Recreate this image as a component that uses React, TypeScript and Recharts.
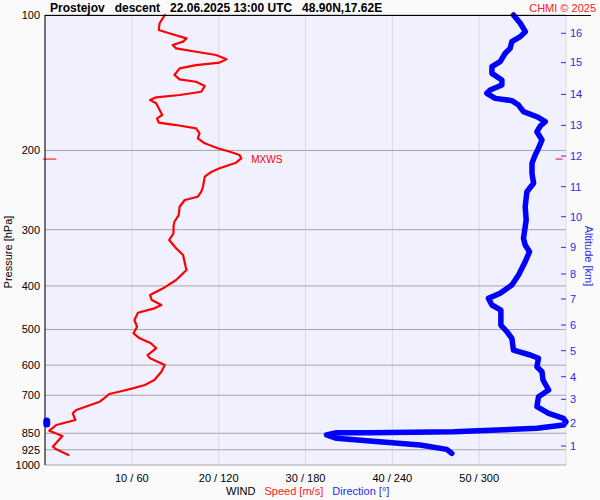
import * as React from 'react';
import { CartesianGrid, ReferenceLine, Scatter, ScatterChart, XAxis, YAxis } from 'recharts';

// wind speed profile [m/s] vs pressure [hPa]
const speedPressure = [100, 104.3, 108, 109.8, 112.7, 114.6, 116.6, 118.6, 120.7, 122.7, 125.4, 127.6, 129.2, 131.4, 135.9, 139, 140.7, 143.8, 148.1, 150.6, 152.4, 154.5, 157.1, 162.6, 166.8, 169.7, 173.5, 175.6, 178.6, 183.2, 187.9, 192.8, 197.8, 201.3, 204.7, 208.2, 212.9, 219.1, 222.9, 228.7, 240.8, 247, 253.4, 257.7, 266.7, 278.3, 288, 295.4, 305.6, 316.2, 329.9, 341.5, 362.5, 368.8, 388.1, 404.9, 419.1, 429.9, 441, 448.6, 458.8, 476.2, 492.9, 509.7, 522.9, 536.5, 550.4, 569.6, 579.3, 599.5, 620.4, 647.3, 664.1, 675.5, 683.8, 695.4, 710.9, 723.3, 754.9, 767.6, 794.3, 814.9, 839.1, 862.2, 910.8, 923.1, 950];
const speedValues = [13.8, 13.2, 13.1, 14.3, 16.3, 15.9, 14.7, 15.1, 17.4, 19.7, 20.9, 20.1, 17.4, 15.5, 14.9, 15.5, 17.4, 18.4, 18, 15.5, 12.8, 12.1, 12.8, 13.2, 13.5, 12.9, 13.1, 15.1, 17.4, 17.8, 17.6, 18.4, 19.9, 21.3, 22.4, 22.6, 22, 20.1, 19.2, 18.4, 18.2, 18, 17.6, 16.1, 15.5, 15.4, 14.9, 14.8, 14.8, 14.3, 15.1, 15.9, 16.2, 16.3, 15.1, 13.6, 12.1, 12.3, 13.4, 12.6, 10.7, 10.3, 10.6, 10.2, 10.9, 12.2, 12.8, 11.8, 12.1, 13.8, 13.4, 12.6, 11.5, 10.1, 9, 7.4, 6.8, 6.3, 3.6, 3.2, 3.5, 1.3, 0.5, 2, 0.9, 1.3, 2.7];

// wind direction profile [deg] vs pressure [hPa]
const dirPressure = [100, 104.3, 108.9, 111.7, 114.6, 118.6, 121.6, 127, 130.3, 134.8, 139.5, 143.1, 146.8, 149.3, 153.2, 155, 158.5, 164, 168.3, 172.6, 176.5, 181.7, 189.6, 197.8, 204.7, 213.6, 224.8, 236.6, 247, 266.7, 285.5, 313.5, 324.4, 335.7, 353.4, 378.3, 398.1, 415.4, 426.3, 441, 452.5, 488.7, 505.7, 522.9, 555.3, 569.6, 579.3, 604.8, 620.4, 647.3, 681.3, 705.1, 741.9, 767.6, 787.8, 801.7, 814.9, 828.8, 843.3, 847.6, 848, 857.7, 872.4, 884.5, 902.8, 923.1, 941.9];
const dirValues = [323.7, 328.4, 331.9, 328.4, 322.6, 321.4, 318, 314.5, 308.8, 308.8, 315.7, 315.7, 307.6, 305.3, 311.1, 322.6, 327.2, 330.6, 339.9, 345.7, 342.2, 339.9, 343.4, 341, 338.7, 336.5, 336.5, 337.6, 333, 331.8, 332.5, 330.6, 331.8, 334.8, 331.8, 327.2, 322.6, 314.5, 306.4, 308.8, 315, 315, 319.2, 322.6, 323.7, 335.3, 341, 339.9, 343.4, 344.1, 348, 341, 339.9, 348, 358.3, 360, 358.3, 339.9, 282.2, 224.5, 201.5, 194.5, 201.5, 224.5, 259.1, 277.6, 281.1];
// short piece where the direction wraps past north
const wrapPressure = [798.7, 810.8];
const wrapValues = [1.2, 1.2];

const pressureTicks = [100, 200, 300, 400, 500, 600, 700, 850, 925, 1000];
const speedTicks = [0, 10, 20, 30, 40, 50, 60];
const altitudeKm = [1, 2, 3, 4, 5, 6, 7, 8, 9, 10, 11, 12, 13, 14, 15, 16];
const altitudePressure = [907.4, 807.7, 714.5, 636.5, 557.2, 488.6, 427.7, 376.3, 328.4, 280.7, 240.7, 205.8, 175.9, 150.1, 127.6, 109.8];

const maxWindSpeed = 22.6;
const maxWindPressure = 209;

const speedData = speedValues.map((v, i) => ({ v, p: speedPressure[i] }));
const dirData = dirValues.map((v, i) => ({ v, p: dirPressure[i] }));
const wrapData = wrapValues.map((v, i) => ({ v, p: wrapPressure[i] }));
const mxwsData = [{ v: maxWindSpeed, p: maxWindPressure }];

const FONT = 'Arial, "Liberation Sans", sans-serif';
const BLUE = '#0000ff';
const AXIS_BLUE = '#2a2ae8';
const RED = '#ff0000';

const noDot = () => <g />;

function WindTick(props: any) {
    const { x, y, payload } = props;
    const v = payload.value;
    if (v === 0 || v === 60) return <g />;
    return (
        <text x={x} y={y} dy="0.8em" textAnchor="middle" fill="#000" fontSize={11} fontFamily={FONT}>
            {`${v} / ${v * 6}`}
        </text>
    );
}

function AltTick(props: any) {
    const { x, y, payload } = props;
    const idx = altitudePressure.indexOf(payload.value);
    return (
        <g>
            <line x1={x - 5} x2={x} y1={y} y2={y} stroke={AXIS_BLUE} />
            <text x={x + 4} y={y} dy="0.35em" fill={AXIS_BLUE} fontSize={11} fontFamily={FONT}>
                {idx >= 0 ? altitudeKm[idx] : ''}
            </text>
        </g>
    );
}

function MxwsLabel(props: any) {
    const { cx, cy } = props;
    return (
        <text x={cx + 10} y={cy} dy="0.35em" fill={RED} fontSize={10} fontFamily={FONT}>MXWS</text>
    );
}

export default function App() {
    return (
        <div style={{ position: 'absolute', left: 0, top: 0, width: 600, height: 500, background: '#fafafa', fontFamily: FONT }}>
            <ScatterChart width={600} height={500} margin={{ top: 15, right: 0, bottom: 0, left: 0 }}>
                <CartesianGrid xAxisId="spd" yAxisId="p" horizontal={false} stroke="#dadada" fill="#f0f0ff" />
                <CartesianGrid xAxisId="spd" yAxisId="p" vertical={false} stroke="#a6a6a6" />
                <XAxis xAxisId="spd" type="number" dataKey="v" domain={[0, 60]} ticks={speedTicks} interval={0}
                    axisLine={false} tickLine={false} height={35} tick={<WindTick />} />
                <XAxis xAxisId="dir" orientation="top" type="number" dataKey="v" domain={[0, 360]} hide />
                <YAxis yAxisId="p" type="number" dataKey="p" scale="log" domain={[100, 1000]} reversed
                    ticks={pressureTicks} interval={0} width={45} tickSize={0} tickMargin={5}
                    axisLine={{ stroke: '#000' }} tickLine={false}
                    tick={{ fill: '#000', fontSize: 11, fontFamily: FONT }} />
                <YAxis yAxisId="alt" orientation="right" type="number" dataKey="p" scale="log" domain={[100, 1000]} reversed
                    ticks={altitudePressure} interval={0} width={34} tickSize={0} tickMargin={0}
                    axisLine={false} tickLine={false} tick={<AltTick />} />
                <ReferenceLine xAxisId="spd" yAxisId="p" ifOverflow="visible" stroke={RED}
                    segment={[{ x: -0.25, y: maxWindPressure }, { x: 1.3, y: maxWindPressure }]} />
                <ReferenceLine xAxisId="spd" yAxisId="p" ifOverflow="visible" stroke={RED}
                    segment={[{ x: 58.8, y: maxWindPressure }, { x: 59.6, y: maxWindPressure }]} />
                <Scatter xAxisId="dir" yAxisId="p" data={dirData} fill={BLUE} shape={noDot}
                    line={{ stroke: BLUE, strokeWidth: 5.5, strokeLinejoin: 'round', strokeLinecap: 'round' }}
                    isAnimationActive={false} />
                <Scatter xAxisId="dir" yAxisId="p" data={wrapData} fill={BLUE} shape={noDot}
                    line={{ stroke: BLUE, strokeWidth: 7, strokeLinejoin: 'round', strokeLinecap: 'round' }}
                    isAnimationActive={false} />
                <Scatter xAxisId="spd" yAxisId="p" data={speedData} fill={RED} shape={noDot}
                    line={{ stroke: RED, strokeWidth: 2.2, strokeLinejoin: 'round', strokeLinecap: 'round' }}
                    isAnimationActive={false} />
                <Scatter xAxisId="spd" yAxisId="alt" data={mxwsData} fill={RED} shape={<MxwsLabel />}
                    isAnimationActive={false} />
            </ScatterChart>

            <div style={{ position: 'absolute', left: 50, top: 1, fontSize: 12, fontWeight: 'bold', lineHeight: '14px', whiteSpace: 'pre', color: '#000' }}>
                {'Prostejov   descent   22.06.2025 13:00 UTC   48.90N,17.62E'}
            </div>
            <div style={{ position: 'absolute', right: 4, top: 2, fontSize: 11, lineHeight: '13px', color: '#ff2020', whiteSpace: 'nowrap' }}>
                CHMI © 2025
            </div>
            <div style={{ position: 'absolute', left: 45, top: 15, width: 546, height: 1, background: '#000' }} />
            <div style={{ position: 'absolute', left: 8, top: 252, fontSize: 11, whiteSpace: 'nowrap', transform: 'translate(-50%, -50%) rotate(-90deg)' }}>
                Pressure [hPa]
            </div>
            <div style={{ position: 'absolute', left: 589, top: 256, fontSize: 11, color: AXIS_BLUE, whiteSpace: 'nowrap', transform: 'translate(-50%, -50%) rotate(90deg)' }}>
                Altitude [km]
            </div>
            <div style={{ position: 'absolute', left: 226, top: 484, fontSize: 11, lineHeight: '14px', whiteSpace: 'pre' }}>
                <span style={{ color: '#000' }}>WIND</span>
                <span style={{ color: '#ff2020' }}>{'   Speed [m/s]'}</span>
                <span style={{ color: AXIS_BLUE }}>{'   Direction [°]'}</span>
            </div>
        </div>
    );
}
